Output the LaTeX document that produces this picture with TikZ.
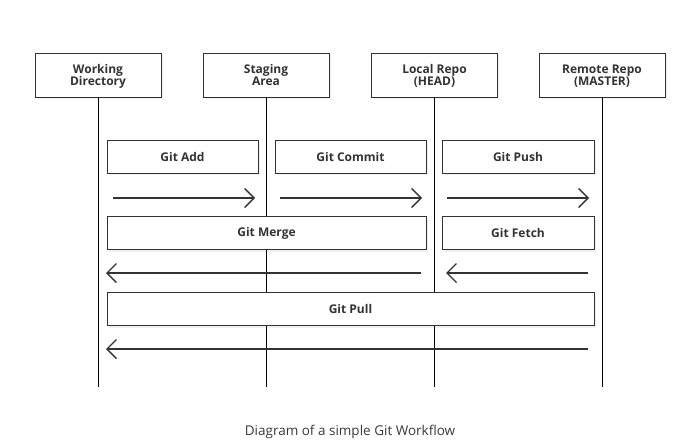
\documentclass[tikz,border=0pt]{standalone}
\usepackage{fontspec}
\setmainfont{Open Sans}
\usetikzlibrary{arrows.meta,shadows}
\definecolor{ink}{HTML}{333333}
\definecolor{cap}{HTML}{3A3A3A}
\begin{document}
\begin{tikzpicture}[x=1pt,y=-1pt,
  hdr/.style={draw=ink,line width=0.9pt,fill=white,minimum width=126pt,minimum height=44pt,
    align=center,font=\fontsize{12}{12}\selectfont\bfseries,text=ink,inner sep=0pt,
    text depth=-1pt,
    drop shadow={shadow xshift=1.5pt,shadow yshift=-2pt,opacity=0.12}},
  cmd/.style={draw=ink,line width=0.9pt,fill=white,minimum height=33pt,
    font=\fontsize{12}{12}\selectfont\bfseries,text=ink,inner sep=0pt,
    drop shadow={shadow xshift=1.5pt,shadow yshift=-2pt,opacity=0.12}},
  life/.style={draw=black,line width=0.7pt},
  flow/.style={draw=ink,line width=1.8pt,-{Straight Barb[length=9.5pt,width=19pt,line width=1.4pt]}}]
\useasboundingbox (0,0) rectangle (700,442);
% headers
\node[hdr] (wd) at (98,75) {Working\\Directory};
\node[hdr] (sa) at (266,75) {Staging\\Area};
\node[hdr] (lr) at (434.5,75) {Local Repo\\(HEAD)};
\node[hdr] (rr) at (602,75) {Remote Repo\\(MASTER)};
% lifeline ends
\coordinate (wdE) at (98,387);
\coordinate (saE) at (266,387);
\coordinate (lrE) at (434.5,387);
\coordinate (rrE) at (602,387);
\draw[life] (wd.south) -- (wdE);
\draw[life] (sa.south) -- (saE);
\draw[life] (lr.south) -- (lrE);
\draw[life] (rr.south) -- (rrE);
% command boxes
\node[cmd,minimum width=151pt] (add) at (182.5,156.5) {Git Add};
\node[cmd,minimum width=151pt] (commit) at (350.5,156.5) {Git Commit};
\node[cmd,minimum width=152pt] (push) at (518,156.5) {Git Push};
\node[cmd,minimum width=319pt] (merge) at (266.5,233) {Git Merge};
\node[cmd,minimum width=152pt] (fetch) at (518,233) {Git Fetch};
\node[cmd,minimum width=487pt] (pull) at (350.5,309) {Git Pull};
% arrow ends
\coordinate (a1s) at (113,198); \coordinate (a1e) at (255,198);
\coordinate (a2s) at (280,198); \coordinate (a2e) at (422,198);
\coordinate (a3s) at (447,198); \coordinate (a3e) at (589,198);
\coordinate (m1s) at (421,273); \coordinate (m1e) at (106,273);
\coordinate (f1s) at (588,273); \coordinate (f1e) at (446,273);
\coordinate (p1s) at (588,349); \coordinate (p1e) at (106,349);
\draw[flow] (a1s) -- (a1e);
\draw[flow] (a2s) -- (a2e);
\draw[flow] (a3s) -- (a3e);
\draw[flow] (m1s) -- (m1e);
\draw[flow] (f1s) -- (f1e);
\draw[flow] (p1s) -- (p1e);
% caption
\node[font=\fontsize{13.5}{15}\selectfont,text=cap] (caption) at (350,432) {Diagram of a simple Git Workflow};
\end{tikzpicture}
\end{document}
